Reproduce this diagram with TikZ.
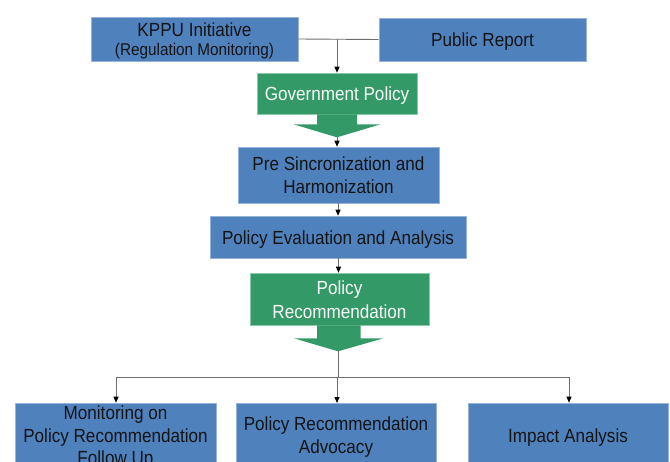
\documentclass[tikz,border=0pt]{standalone}
\usepackage{fontspec}
\setmainfont{Liberation Sans}[FakeStretch=0.9]
\usetikzlibrary{arrows.meta,calc}
\definecolor{boxblue}{RGB}{79,129,189}
\definecolor{boxblueedge}{RGB}{150,180,215}
\definecolor{boxgreen}{RGB}{51,153,102}
\definecolor{boxgreenedge}{RGB}{140,200,165}
\definecolor{linegray}{RGB}{110,110,110}
\definecolor{darktext}{RGB}{20,20,20}
\tikzset{
  basebox/.style={line width=0.6pt, inner sep=0pt, align=center,
    text height=14pt, text depth=-2pt, font=\fontsize{19}{22.5}\selectfont},
  twolines/.style={text height=36.5pt},
  threelines/.style={text height=59pt},
  bluebox/.style={basebox, draw=boxblueedge, fill=boxblue, text=darktext},
  greenbox/.style={basebox, draw=boxgreenedge, fill=boxgreen, text=white!95!gray},
  greenarrow/.style={fill=boxgreen, draw=none},
  conn/.style={draw=linegray, line width=0.9pt},
  connarrow/.style={conn, -{Triangle[length=6pt,width=5pt,color=black]}},
}
\begin{document}
\begin{tikzpicture}[x=1pt,y=-1pt]
\clip (0,0) rectangle (670,461);
\fill[white] (0,0) rectangle (670,461);

% top row
\node[bluebox, minimum width=207pt, minimum height=44pt, text height=33.5pt] (kppu) at (194.5,39)
  {KPPU Initiative\\[-3pt]{\fontsize{17}{19}\selectfont (Regulation Monitoring)}};
\node[bluebox, minimum width=207pt, minimum height=43pt] (public) at (482.5,39.5) {Public Report};

% government policy
\node[greenbox, minimum width=160pt, minimum height=41pt] (gov) at (337,93.5) {Government Policy};
\fill[greenarrow] ($(gov.south)+(-20,0)$) -- ++(0,10) -- ++(-23.5,0) -- ($(gov.south)+(0,23)$) coordinate (govtip)
  -- ($(gov.south)+(43.5,10)$) -- ++(-23.5,0) -- ++(0,-10) -- cycle;

% middle boxes
\node[bluebox, twolines, minimum width=201pt, minimum height=56pt] (pre) at (338.5,175)
  {Pre Sincronization and\\Harmonization};
\node[bluebox, minimum width=256pt, minimum height=42pt] (eval) at (338,237)
  {Policy Evaluation and Analysis};

% policy recommendation
\node[greenbox, minimum width=179pt, minimum height=52pt, font=\fontsize{19}{24}\selectfont, text height=38pt] (rec) at (339.5,299)
  {Policy\\Recommendation};
\fill[greenarrow] ($(rec.south)+(-22.5,0)$) -- ++(0,13) -- ++(-23,0) -- ($(rec.south)+(-1.5,26)$) coordinate (rectip)
  -- ($(rec.south)+(44,13)$) -- ++(-23,0) -- ++(0,-13) -- cycle;

% bottom boxes
\node[bluebox, threelines, minimum width=201pt, minimum height=64pt] (mon) at (115.5,435)
  {Monitoring on\\Policy Recommendation\\Follow Up};
\node[bluebox, twolines, minimum width=200pt, minimum height=64pt] (adv) at (336,435)
  {Policy Recommendation\\Advocacy};
\node[bluebox, minimum width=200pt, minimum height=64pt] (imp) at (568,435)
  {Impact Analysis};

% connectors
\coordinate (j1) at (337,39);
\draw[conn] (kppu.east) -- (public.west);
\draw[connarrow] (j1) -- (gov.north);
\draw[connarrow] (govtip) -- (govtip |- pre.north);
\draw[connarrow] (pre.south) -- (eval.south |- pre.south) -- (eval.north);
\draw[connarrow] ($(eval.south)+(0.5,0)$) -- (rec.north -| {$(eval.south)+(0.5,0)$});
\coordinate (j2) at (338,377);
\draw[conn] (rectip) -- (j2);
\coordinate (jl) at (116,377);
\coordinate (jr) at (569,377);
\draw[conn] (jl) -- (jr);
\draw[connarrow] (jl) -- (jl |- mon.north);
\draw[connarrow] (337,377) -- (337,403);
\draw[connarrow] (jr) -- (jr |- imp.north);
\end{tikzpicture}
\end{document}
